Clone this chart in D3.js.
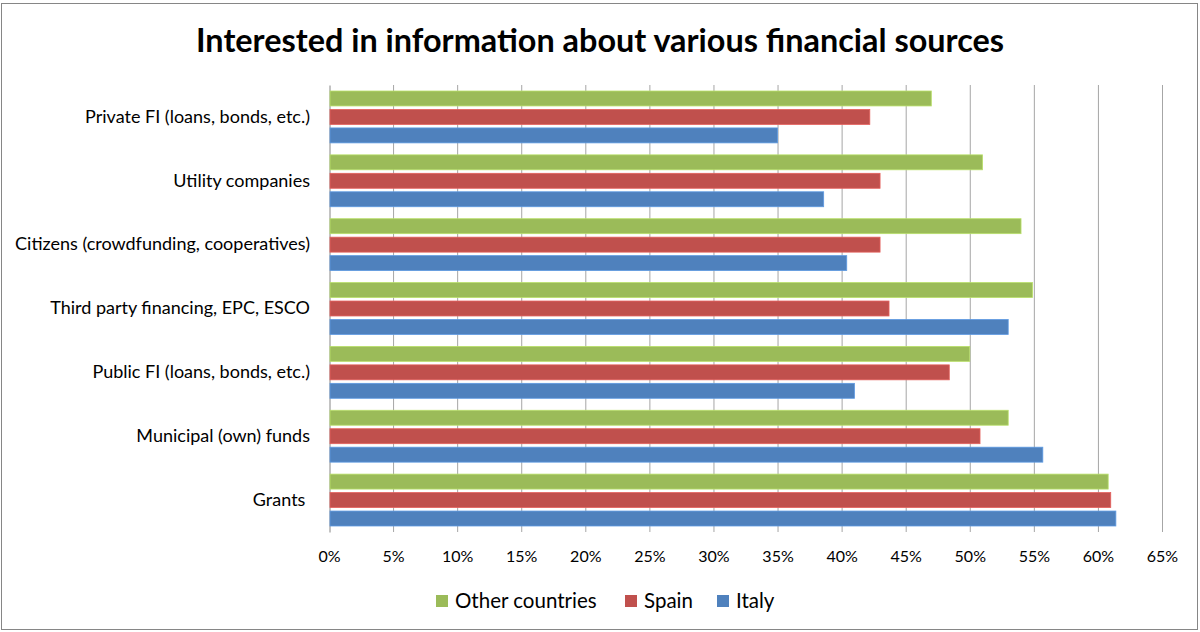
<!DOCTYPE html>
<html>
<head>
<meta charset="utf-8">
<script src="https://cdn.jsdelivr.net/npm/d3@7"></script>
<style>
  body { margin: 0; background: #fff; }
  svg text { font-family: Lato, "Open Sans", sans-serif; fill: #000; }
</style>
</head>
<body>
<svg id="chart" width="1200" height="632"></svg>
<script>
// 1: DATA
const categories = [
    "Private FI (loans, bonds, etc.)",
    "Utility companies",
    "Citizens (crowdfunding, cooperatives)",
    "Third party financing, EPC, ESCO",
    "Public FI (loans, bonds, etc.)",
    "Municipal (own) funds",
    "Grants "
];
const seriesNames = ["Other countries", "Spain", "Italy"];
const otherCountries = [47.0, 51.0, 54.0, 54.9, 50.0, 53.0, 60.8];
const spain = [42.2, 43.0, 43.0, 43.7, 48.4, 50.8, 61.0];
const italy = [35.0, 38.6, 40.4, 53.0, 41.0, 55.7, 61.4];
const xTicks = [0, 5, 10, 15, 20, 25, 30, 35, 40, 45, 50, 55, 60, 65];
const colors = ["#9bbb59", "#c0504d", "#4f81bd"];

const seriesValues = [otherCountries, spain, italy];
const data = categories.map((c, i) => ({
    category: c,
    values: seriesNames.map((s, j) => ({ series: s, value: seriesValues[j][i] }))
}));

// 2: LAYOUT
const margin = { top: 85, left: 329 };
const width = 833;
const height = 447;

const svg = d3.select("#chart");

// outer border
svg.append("rect")
    .attr("x", 1.5).attr("y", 3.5)
    .attr("width", 1196).attr("height", 626)
    .attr("fill", "none")
    .attr("stroke", "#868686")
    .attr("stroke-width", 1);

// title
svg.append("text")
    .attr("x", 600)
    .attr("y", 52)
    .attr("text-anchor", "middle")
    .attr("font-size", 32)
    .attr("font-weight", "bold")
    .attr("textLength", 808)
    .attr("lengthAdjust", "spacingAndGlyphs")
    .text("Interested in information about various financial sources");

const g = svg.append("g")
    .attr("transform", `translate(${margin.left},${margin.top})`);

// 3: SCALES
const x = d3.scaleLinear().domain([0, 65]).range([0, width]);

const y = d3.scaleBand()
    .domain(categories)
    .range([0, height])
    .paddingInner(0.1875)
    .paddingOuter(0.094);

const ySub = d3.scaleBand()
    .domain(seriesNames)
    .range([0, y.bandwidth()])
    .paddingInner(0.19);

const color = d3.scaleOrdinal().domain(seriesNames).range(colors);

// 4: GRIDLINES + AXES
g.append("g")
    .selectAll("line")
    .data(xTicks.slice(1))
    .join("line")
    .attr("x1", d => x(d) + 0.5).attr("x2", d => x(d) + 0.5)
    .attr("y1", 0).attr("y2", height)
    .attr("stroke", "#a6a6a6")
    .attr("stroke-width", 1);

const xAxis = g.append("g")
    .attr("transform", `translate(0,${height})`)
    .call(d3.axisBottom(x).tickValues(xTicks).tickFormat(d => d + "%").tickSize(0).tickPadding(19));
xAxis.select(".domain").remove();
xAxis.selectAll("text")
    .attr("font-size", 16)
    .attr("fill", "#000")
    .style("font-family", "Lato, sans-serif");

const yAxis = g.append("g")
    .call(d3.axisLeft(y).tickSize(0).tickPadding(19));
yAxis.select(".domain")
    .attr("stroke", "#868686")
    .attr("transform", "translate(0.5,0)");
yAxis.selectAll("text")
    .attr("font-size", 18)
    .attr("fill", "#000")
    .style("white-space", "pre")
    .style("font-family", "Lato, sans-serif");

// 5: BARS
g.append("g")
    .selectAll("g")
    .data(data)
    .join("g")
    .attr("transform", d => `translate(0,${y(d.category)})`)
    .selectAll("rect")
    .data(d => d.values)
    .join("rect")
    .attr("x", 1)
    .attr("y", d => ySub(d.series))
    .attr("width", d => x(d.value) - 1)
    .attr("height", ySub.bandwidth())
    .attr("fill", d => color(d.series))
    .attr("stroke", d => d3.color(color(d.series)).brighter(0.5))
    .attr("stroke-width", 0.8);

// 6: LEGEND
const legendItems = [
    { name: seriesNames[0], x: 436 },
    { name: seriesNames[1], x: 625 },
    { name: seriesNames[2], x: 717 }
];
const legend = svg.append("g");
const item = legend.selectAll("g")
    .data(legendItems)
    .join("g")
    .attr("transform", d => `translate(${d.x},595)`);
item.append("rect")
    .attr("width", 12).attr("height", 12)
    .attr("fill", d => color(d.name));
item.append("text")
    .attr("x", 19)
    .attr("y", 12.5)
    .attr("font-size", 20.5)
    .text(d => d.name);
</script>
</body>
</html>
